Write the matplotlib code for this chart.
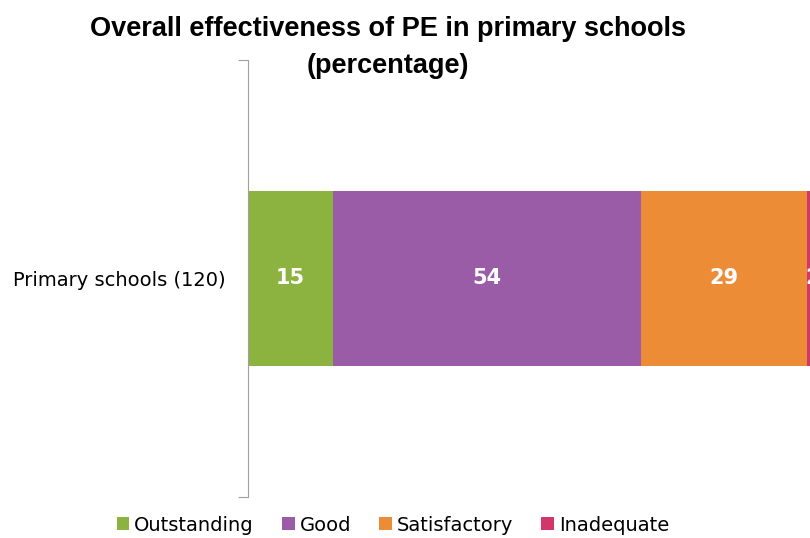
import numpy as np
import matplotlib as mpl
import matplotlib.pyplot as plt
from matplotlib.patches import Patch

mpl.rcParams['font.family'] = ['DejaVu Sans']

# Data
category = 'Primary schools (120)'
grades = ['Outstanding', 'Good', 'Satisfactory', 'Inadequate']
values = [15, 54, 29, 2]
colors = ['#8cb33f', '#9a5ca6', '#ed8c37', '#d3376a']
title_lines = ['Overall effectiveness of PE in primary schools', '(percentage)']

fig = plt.figure(figsize=(8.1, 5.38), dpi=100)
# axes runs a little past the right edge, as in the original crop
ax = fig.add_axes([0.306, 0.0762, 0.704, 0.8123])

left = 0
for g, v, c in zip(grades, values, colors):
    ax.barh(0, v, left=left, height=0.4, color=c, edgecolor='none')
    ax.text(left + v / 2, 0, str(v), ha='center', va='center',
            color='white', fontsize=15, fontweight='bold')
    left += v

ax.set_xlim(0, 100)
ax.set_ylim(-0.5, 0.5)
ax.set_xticks([])
ax.set_yticks([-0.5, 0.5])
ax.set_yticklabels([])
ax.set_yticks([0], minor=True)
ax.set_yticklabels([category], minor=True, fontsize=14)
ax.tick_params(axis='y', which='major', length=7, color='#a0a0a0')
ax.tick_params(axis='y', which='minor', length=0, pad=16)
for s in ['top', 'right', 'bottom']:
    ax.spines[s].set_visible(False)
ax.spines['left'].set_color('#a0a0a0')

# title, two lines
fig.text(0.479, 0.933, title_lines[0], ha='center', va='baseline',
         fontsize=19.5, fontweight='bold', family=['Liberation Sans', 'DejaVu Sans'])
fig.text(0.479, 0.864, title_lines[1], ha='center', va='baseline',
         fontsize=19.5, fontweight='bold', family=['Liberation Sans', 'DejaVu Sans'])

handles = [Patch(facecolor=c, edgecolor='none') for c in colors]
fig.legend(handles, grades, loc='center', bbox_to_anchor=(0.485, 0.024),
           ncol=4, frameon=False, fontsize=14, handlelength=0.65, handleheight=0.65,
           handletextpad=0.25, columnspacing=1.45, borderpad=0)

plt.savefig('out.png', dpi=100)
